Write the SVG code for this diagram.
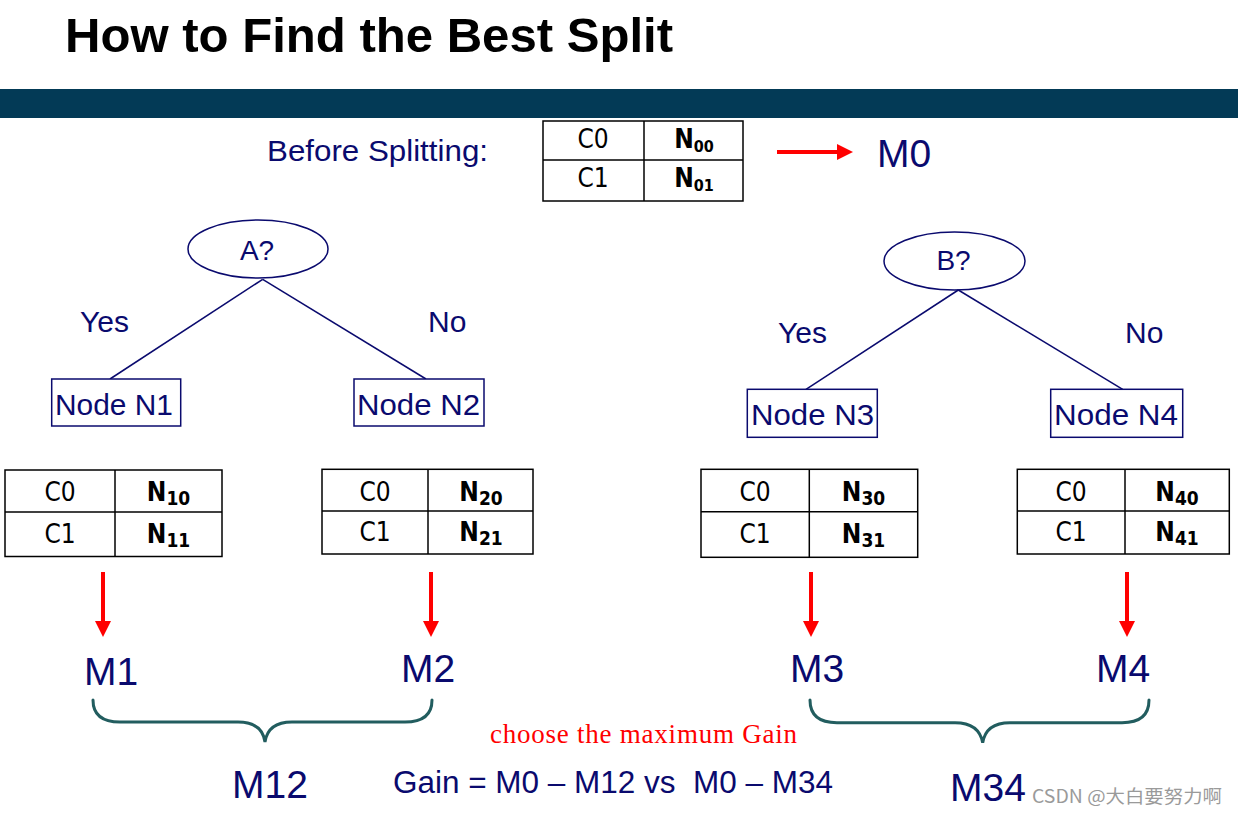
<svg xmlns="http://www.w3.org/2000/svg" width="1238" height="816" viewBox="0 0 1238 816">
<style>
.title{font-family:"Liberation Sans",Arial,sans-serif;font-weight:bold;font-size:49px;fill:#000}
.navy{font-family:"Liberation Sans",Arial,sans-serif;fill:#0a0a6e}
.lbl{font-size:30px}
.m{font-size:39px}
.cell{font-family:"DejaVu Sans Condensed","DejaVu Sans",sans-serif;font-size:26px;fill:#000;text-anchor:middle}
.nb{font-weight:bold}
.tbl{fill:#fff;stroke:#000;stroke-width:1.5}
.edge{stroke:#0a0a6e;stroke-width:1.5;fill:none}
.box{fill:#fff;stroke:#0a0a6e;stroke-width:1.5}
.red{stroke:#ff0000;stroke-width:4;fill:none}
.brace{stroke:#225d5f;stroke-width:3;fill:none;stroke-linecap:round}
</style>
<defs>
<marker id="ah" markerUnits="userSpaceOnUse" markerWidth="16" markerHeight="16" refX="4" refY="8" orient="auto">
<path d="M0,0 L16,8 L0,16 z" fill="#ff0000"/>
</marker>
</defs>
<rect width="1238" height="816" fill="#fff"/>
<text class="title" x="65" y="52" textLength="608" lengthAdjust="spacingAndGlyphs">How to Find the Best Split</text>
<rect x="0" y="89" width="1238" height="29" fill="#033a56"/>

<g id="before">
<text class="navy lbl" x="267" y="161" font-size="29" textLength="221" lengthAdjust="spacingAndGlyphs">Before Splitting:</text>
<rect class="tbl" x="543" y="121" width="200" height="80"/>
<line class="tbl" x1="644" y1="121" x2="644" y2="201"/>
<line class="tbl" x1="543" y1="160" x2="743" y2="160"/>
<text class="cell" x="593" y="148" font-size="23">C0</text>
<text class="cell" x="593" y="187" font-size="23">C1</text>
<text class="cell nb" x="694" y="148" font-size="23">N<tspan font-size="16" dy="4">00</tspan></text>
<text class="cell nb" x="694" y="187" font-size="23">N<tspan font-size="16" dy="4">01</tspan></text>
</g>
<g id="m0"><text class="navy m" x="877" y="167">M0</text></g>

<g id="nodeA">
<ellipse cx="258" cy="249" rx="70" ry="29" fill="#fff" stroke="#0a0a6e" stroke-width="1.5"/>
<text class="navy" x="257" y="260" font-size="28" text-anchor="middle">A?</text>
</g>
<g id="nodeB">
<ellipse cx="954.5" cy="261" rx="70.5" ry="29" fill="#fff" stroke="#0a0a6e" stroke-width="1.5"/>
<text class="navy" x="953.5" y="270" font-size="28" text-anchor="middle">B?</text>
</g>

<g id="connectors">
<line class="edge" x1="262.7" y1="279.3" x2="110" y2="379"/>
<line class="edge" x1="262.7" y1="279.3" x2="426" y2="379"/>
<line class="edge" x1="958.3" y1="290" x2="806" y2="389.3"/>
<line class="edge" x1="958.3" y1="290" x2="1122.7" y2="389.3"/>
<line class="red" x1="777" y1="152" x2="841" y2="152" marker-end="url(#ah)"/>
<line class="red" x1="103" y1="572" x2="103" y2="625" marker-end="url(#ah)"/>
<line class="red" x1="431" y1="572" x2="431" y2="625" marker-end="url(#ah)"/>
<line class="red" x1="811" y1="572" x2="811" y2="625" marker-end="url(#ah)"/>
<line class="red" x1="1127" y1="572" x2="1127" y2="625" marker-end="url(#ah)"/>
</g>

<g id="labels">
<text class="navy lbl" x="80" y="332">Yes</text>
<text class="navy lbl" x="428" y="332">No</text>
<text class="navy lbl" x="778" y="343">Yes</text>
<text class="navy lbl" x="1125" y="343">No</text>
</g>

<g id="nodeN1">
<rect class="box" x="51.7" y="379" width="129" height="47"/>
<text class="navy" x="55" y="415" font-size="30" textLength="118" lengthAdjust="spacingAndGlyphs">Node N1</text>
</g>
<g id="nodeN2">
<rect class="box" x="354" y="379" width="130" height="47"/>
<text class="navy" x="357" y="415" font-size="30" textLength="123" lengthAdjust="spacingAndGlyphs">Node N2</text>
</g>
<g id="nodeN3">
<rect class="box" x="747.3" y="389.3" width="130" height="48"/>
<text class="navy" x="751" y="425" font-size="30" textLength="123" lengthAdjust="spacingAndGlyphs">Node N3</text>
</g>
<g id="nodeN4">
<rect class="box" x="1050.7" y="389.3" width="132" height="48"/>
<text class="navy" x="1054" y="425" font-size="30" textLength="124" lengthAdjust="spacingAndGlyphs">Node N4</text>
</g>

<g id="table1">
<rect class="tbl" x="5" y="470" width="217" height="86.5"/>
<line class="tbl" x1="115" y1="470" x2="115" y2="556.5"/>
<line class="tbl" x1="5" y1="512" x2="222" y2="512"/>
<text class="cell" x="60" y="500.5">C0</text>
<text class="cell" x="60" y="542.5">C1</text>
<text class="cell nb" x="168.5" y="500.5" font-size="26">N<tspan font-size="19" dy="4">10</tspan></text>
<text class="cell nb" x="168.5" y="542.5" font-size="26">N<tspan font-size="19" dy="4">11</tspan></text>
</g>
<g id="table2">
<rect class="tbl" x="322" y="469.3" width="211" height="84.7"/>
<line class="tbl" x1="428" y1="469.3" x2="428" y2="554"/>
<line class="tbl" x1="322" y1="511" x2="533" y2="511"/>
<text class="cell" x="375" y="500.5">C0</text>
<text class="cell" x="375" y="541">C1</text>
<text class="cell nb" x="481" y="500.5" font-size="26">N<tspan font-size="19" dy="4">20</tspan></text>
<text class="cell nb" x="481" y="541" font-size="26">N<tspan font-size="19" dy="4">21</tspan></text>
</g>
<g id="table3">
<rect class="tbl" x="701" y="469.3" width="216.7" height="88"/>
<line class="tbl" x1="809.3" y1="469.3" x2="809.3" y2="557.3"/>
<line class="tbl" x1="701" y1="511.7" x2="917.7" y2="511.7"/>
<text class="cell" x="755" y="501">C0</text>
<text class="cell" x="755" y="543">C1</text>
<text class="cell nb" x="863.5" y="501" font-size="26">N<tspan font-size="19" dy="4">30</tspan></text>
<text class="cell nb" x="863.5" y="543" font-size="26">N<tspan font-size="19" dy="4">31</tspan></text>
</g>
<g id="table4">
<rect class="tbl" x="1017.3" y="469.3" width="212" height="84.7"/>
<line class="tbl" x1="1125" y1="469.3" x2="1125" y2="554"/>
<line class="tbl" x1="1017.3" y1="511" x2="1229.3" y2="511"/>
<text class="cell" x="1071" y="500.5">C0</text>
<text class="cell" x="1071" y="541">C1</text>
<text class="cell nb" x="1177" y="500.5" font-size="26">N<tspan font-size="19" dy="4">40</tspan></text>
<text class="cell nb" x="1177" y="541" font-size="26">N<tspan font-size="19" dy="4">41</tspan></text>
</g>

<g id="m1"><text class="navy m" x="84" y="685">M1</text></g>
<g id="m2"><text class="navy m" x="401" y="682">M2</text></g>
<g id="m3"><text class="navy m" x="790" y="682">M3</text></g>
<g id="m4"><text class="navy m" x="1096" y="682">M4</text></g>

<g id="braces">
<path class="brace" d="M93,700 Q93,722 120,722 L238,722 Q262,722 265,742 Q268,722 292,722 L405,722 Q432,722 432,700"/>
<path class="brace" d="M810,700 Q810,722.7 837,722.7 L955,722.7 Q979,722.7 982.7,742.7 Q986,722.7 1010,722.7 L1122,722.7 Q1149,722.7 1149,700"/>
</g>

<g id="m12"><text class="navy m" x="232" y="798">M12</text></g>
<g id="m34"><text class="navy m" x="950" y="801">M34</text></g>

<text x="490" y="743" font-family="Liberation Serif,serif" font-size="27" fill="#ff0000" textLength="307" lengthAdjust="spacing">choose the maximum Gain</text>
<text class="navy" x="393" y="793" font-size="31" textLength="440" lengthAdjust="spacingAndGlyphs" xml:space="preserve">Gain = M0 – M12 vs  M0 – M34</text>
<text x="1032" y="803" font-family="'Noto Sans CJK SC',sans-serif" font-size="18" fill="#9a9a9a" textLength="190" lengthAdjust="spacingAndGlyphs">CSDN @大白要努力啊</text>
</svg>
